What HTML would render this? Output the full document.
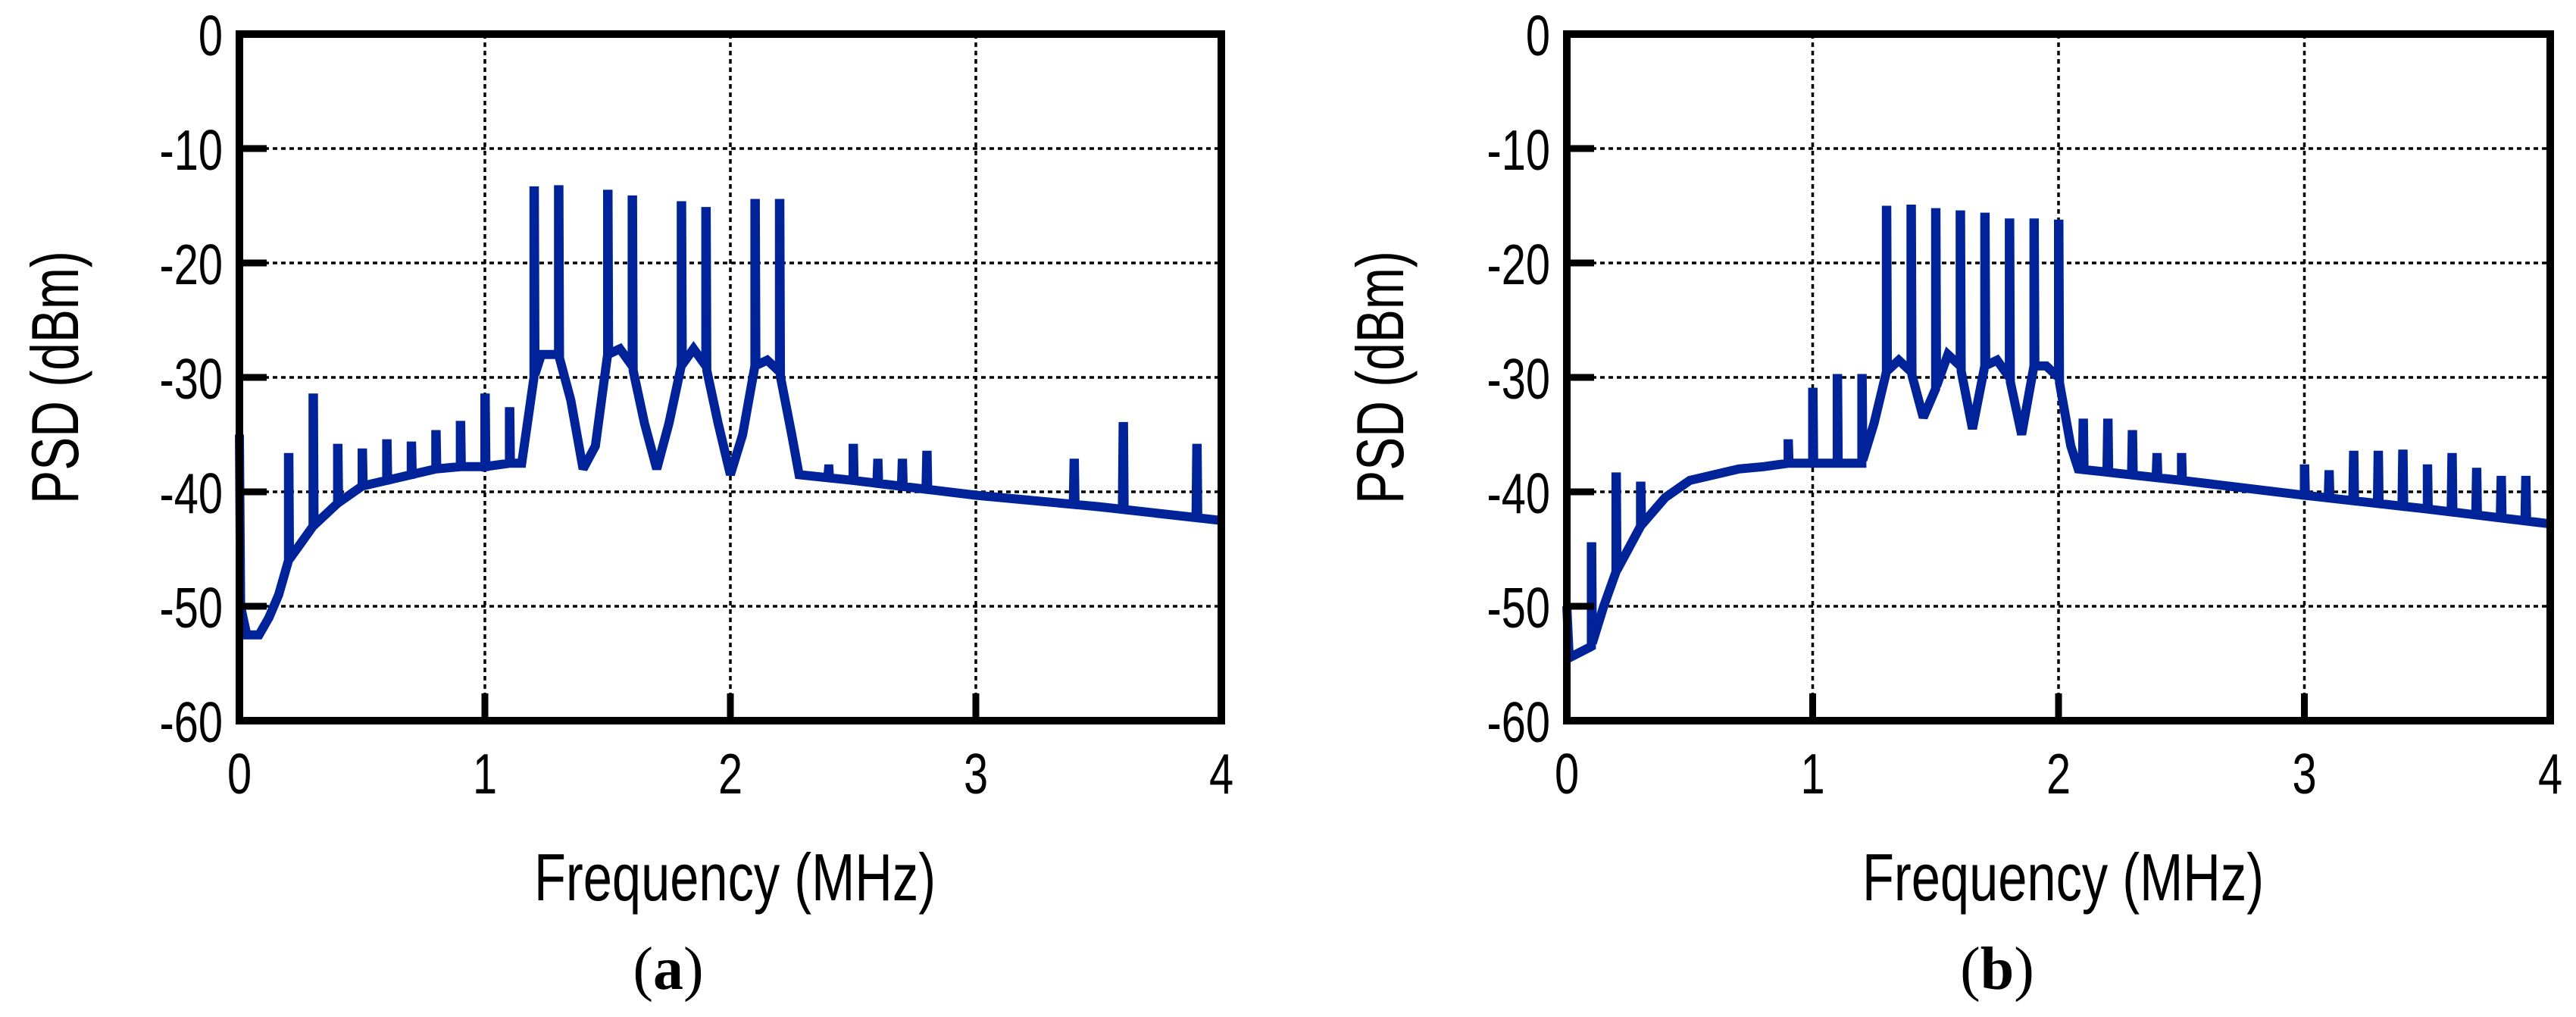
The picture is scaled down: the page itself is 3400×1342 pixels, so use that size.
<!DOCTYPE html>
<html><head><meta charset="utf-8"><style>
html,body{margin:0;padding:0;background:#fff;}
svg{display:block;}
.tick{font-family:"Liberation Sans",sans-serif;font-size:75px;fill:#000;}
.lab{font-family:"Liberation Sans",sans-serif;font-size:88px;fill:#000;}
.cap{font-family:"Liberation Serif",serif;font-size:80px;fill:#000;}
</style></head><body>
<svg id="fig" width="3400" height="1342" viewBox="0 0 3400 1342" xmlns="http://www.w3.org/2000/svg"></svg>
<script>
// ---- Data (frequency in MHz, PSD in dBm) ----
const xTicks = [0, 1, 2, 3, 4];
const yTicks = [0, -10, -20, -30, -40, -50, -60];

const baseFreqA = [0, 0.005, 0.03, 0.08, 0.12, 0.16, 0.2, 0.25, 0.3, 0.4, 0.5, 0.6, 0.7, 0.8, 0.9, 1.0, 1.1, 1.15, 1.2, 1.23, 1.3, 1.35, 1.4, 1.45, 1.5, 1.55, 1.6, 1.65, 1.7, 1.75, 1.8, 1.85, 1.9, 1.95, 2.0, 2.05, 2.1, 2.15, 2.2, 2.25, 2.28, 2.5, 3.0, 3.5, 4.0];
const baseDbA   = [-35, -50, -52.5, -52.5, -51, -49, -46, -44.5, -43, -41, -39.5, -39, -38.5, -38, -37.8, -37.8, -37.5, -37.5, -30, -28, -28, -32, -38, -36, -28, -27.5, -29, -34, -38, -34, -29, -27.5, -29, -34, -38.5, -35, -29, -28.5, -29.5, -35, -38.5, -39, -40.3, -41.3, -42.5];
const spikeFreqA = [0.2, 0.3, 0.4, 0.5, 0.6, 0.7, 0.8, 0.9, 1.0, 1.1, 1.2, 1.3, 1.5, 1.6, 1.8, 1.9, 2.1, 2.2, 2.4, 2.5, 2.6, 2.7, 2.8, 3.4, 3.6, 3.9];
const spikeDbA   = [-37, -31.8, -36.2, -36.6, -35.8, -36, -35, -34.2, -31.8, -33, -13.7, -13.6, -14, -14.5, -15, -15.5, -14.8, -14.8, -38, -36.2, -37.5, -37.5, -36.8, -37.5, -34.3, -36.2];

const baseFreqB = [0, 0.01, 0.1, 0.15, 0.2, 0.3, 0.4, 0.5, 0.6, 0.7, 0.8, 0.9, 1.0, 1.1, 1.2, 1.25, 1.3, 1.35, 1.4, 1.45, 1.5, 1.55, 1.6, 1.65, 1.7, 1.75, 1.8, 1.85, 1.9, 1.95, 2.0, 2.05, 2.08, 2.5, 3.0, 3.5, 4.0];
const baseDbB   = [-50, -54.5, -53.5, -50, -47, -43, -40.5, -39, -38.5, -38, -37.8, -37.5, -37.5, -37.5, -37.5, -34, -29.5, -28.5, -29.5, -33.5, -31, -28, -29, -34.5, -29, -28.5, -30, -35, -29, -29, -30, -36, -38, -39, -40.3, -41.5, -42.8];
const spikeFreqB = [0.1, 0.2, 0.3, 0.9, 1.0, 1.1, 1.2, 1.3, 1.4, 1.5, 1.6, 1.7, 1.8, 1.9, 2.0, 2.1, 2.2, 2.3, 2.4, 2.5, 3.0, 3.1, 3.2, 3.3, 3.4, 3.5, 3.6, 3.7, 3.8, 3.9];
const spikeDbB   = [-44.8, -38.7, -39.5, -35.8, -31.3, -30.1, -30.1, -15.4, -15.3, -15.6, -15.8, -16, -16.5, -16.5, -16.6, -34, -34, -35, -37, -37, -38, -38.5, -36.8, -36.8, -36.7, -38, -37, -38.3, -39, -39];

const NS = "http://www.w3.org/2000/svg";
const svg = document.getElementById('fig');
function mk(tag, attrs, parent) {
  const e = document.createElementNS(NS, tag);
  for (const k in attrs) e.setAttribute(k, attrs[k]);
  (parent || svg).appendChild(e);
  return e;
}
function interp(fs, ds, f) {
  for (let i = 1; i < fs.length; i++) {
    if (f <= fs[i]) { const t = (f - fs[i-1]) / (fs[i] - fs[i-1]); return ds[i-1] + t * (ds[i] - ds[i-1]); }
  }
  return ds[ds.length - 1];
}
function panel(p) {
  const g = mk('g', {});
  
  
  const X = f => p.x0 + (f - 0) / 4 * (p.x4 - p.x0);
  const Y = d => p.yTop + (0 - d) / 60 * (p.yBot - p.yTop);
  xTicks.slice(1, -1).forEach(f => {
    const l = mk('line', {x1: X(f), x2: X(f), y1: p.yTop, y2: p.yBot, stroke: '#000', 'stroke-width': 3.5, 'stroke-dasharray': '6 5'}, g);
    
    
  });
  yTicks.slice(1, -1).forEach(d => {
    const l = mk('line', {x1: p.x0, x2: p.x4, y1: Y(d), y2: Y(d), stroke: '#000', 'stroke-width': 3.5, 'stroke-dasharray': '6 5'}, g);
    
    
  });
  const pts = [];
  p.bf.forEach((f, i) => pts.push([f, p.bd[i]]));
  p.sf.forEach((f, i) => {
    const b1 = interp(p.bf, p.bd, f - 0.003), b2 = interp(p.bf, p.bd, f + 0.004);
    pts.push([f - 0.003, b1]); pts.push([f, p.sd[i]]); pts.push([f + 0.0015, p.sd[i]]); pts.push([f + 0.004, b2]);
  });
  pts.sort((a, b) => a[0] - b[0]);
  const d = pts.map((q, i) => (i ? 'L' : 'M') + X(q[0]).toFixed(1) + ' ' + Y(q[1]).toFixed(1)).join(' ');
  const path = mk('path', {d: d, fill: 'none', stroke: '#00239a', 'stroke-width': 12, 'stroke-linejoin': 'miter', 'stroke-miterlimit': 3}, g);
  
  
  const fr = mk('rect', {x: p.x0, y: p.yTop, width: p.x4 - p.x0, height: p.yBot - p.yTop, fill: 'none', stroke: '#000', 'stroke-width': 10}, g);
  
  
  yTicks.slice(1, -1).forEach(v => {
    const t = mk('line', {x1: p.x0, x2: p.x0 + 36, y1: Y(v), y2: Y(v), stroke: '#000', 'stroke-width': 9}, g);
    
    
  });
  xTicks.slice(1, -1).forEach(v => {
    const t = mk('line', {x1: X(v), x2: X(v), y1: p.yBot, y2: p.yBot - 36, stroke: '#000', 'stroke-width': 9}, g);
    
    
  });
  yTicks.forEach(v => {
    const t = mk('text', {x: 0, y: 0, class: 'tick', 'text-anchor': 'end', transform: `translate(${p.x0 - 22},${Y(v) + 28}) scale(0.77,1)`}, g);
    t.textContent = String(v);
    
    
  });
  xTicks.forEach(v => {
    const t = mk('text', {x: 0, y: 0, class: 'tick', 'text-anchor': 'middle', transform: `translate(${X(v)},${p.yBot + 96}) scale(0.77,1)`}, g);
    t.textContent = String(v);
    
    
  });
  const xl = mk('text', {x: 0, y: 0, class: 'lab', 'text-anchor': 'middle', transform: `translate(${(p.x0 + p.x4) / 2 + 6},${p.yBot + 237}) scale(0.78,1)`}, g);
  xl.textContent = 'Frequency (MHz)';
  
  
  const yl = mk('text', {x: 0, y: 0, class: 'lab', 'text-anchor': 'middle', transform: `translate(${p.yLabX},${(p.yTop + p.yBot) / 2}) rotate(-90) scale(0.75,1)`}, g);
  yl.textContent = 'PSD (dBm)';
  
  
  const cap = mk('text', {x: p.capX, y: 1305, class: 'cap', 'text-anchor': 'middle'}, g);
  cap.innerHTML = '(<tspan font-weight="bold">' + p.cap + '</tspan>)';
  
  
}
panel({name: 'panel-a', x0: 316, x4: 1612, yTop: 45, yBot: 951, yLabX: 103, capX: 882, cap: 'a', bf: baseFreqA, bd: baseDbA, sf: spikeFreqA, sd: spikeDbA});
panel({name: 'panel-b', x0: 2068, x4: 3366, yTop: 45, yBot: 951, yLabX: 1852, capX: 2636, cap: 'b', bf: baseFreqB, bd: baseDbB, sf: spikeFreqB, sd: spikeDbB});
</script>
</body></html>
